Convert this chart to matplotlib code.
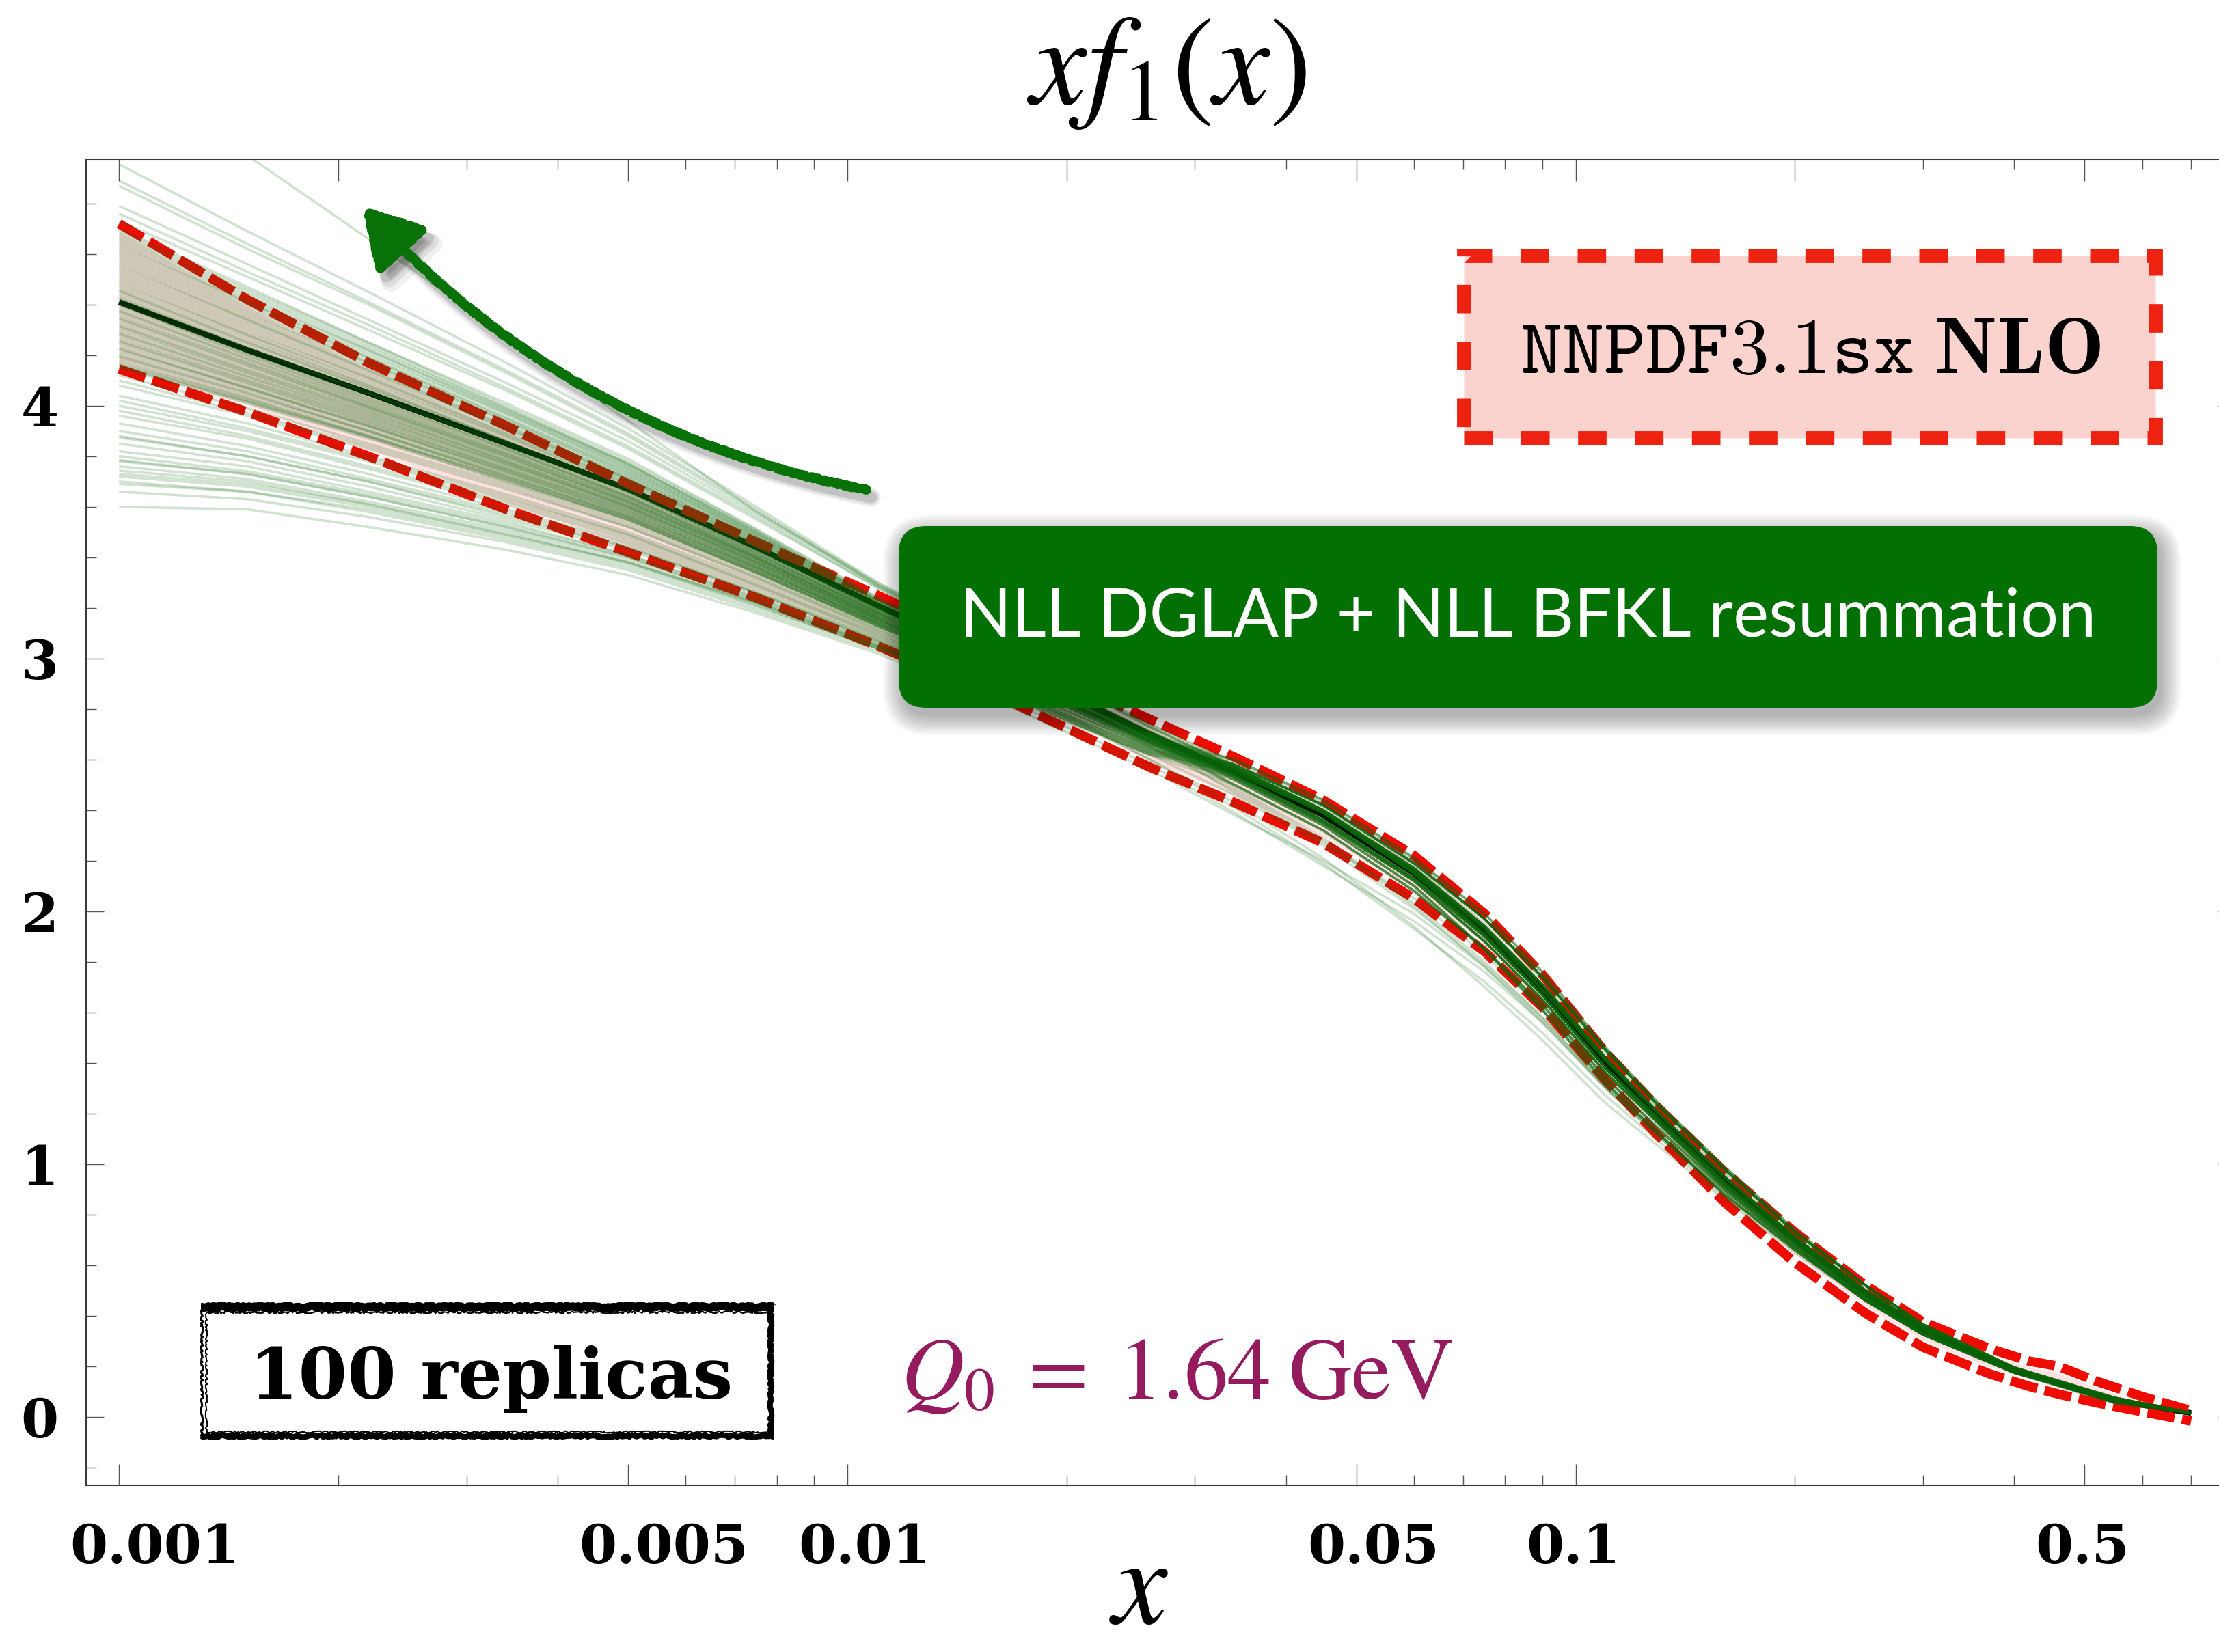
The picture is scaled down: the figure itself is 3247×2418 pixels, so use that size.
import numpy as np
import matplotlib
matplotlib.use("Agg")
import matplotlib.pyplot as plt
import matplotlib.transforms as mtransforms
from matplotlib.patches import FancyBboxPatch, Rectangle, FancyArrowPatch
from matplotlib.lines import Line2D
from matplotlib.ticker import FixedLocator, NullFormatter, MultipleLocator

# ---------------------------------------------------------------- data
X_NODES = [0.001, 0.0015, 0.0022, 0.0034, 0.005, 0.0075, 0.011, 0.017, 0.026,
           0.034, 0.045, 0.06, 0.075, 0.09, 0.11, 0.13, 0.16, 0.2, 0.25, 0.3,
           0.4, 0.55, 0.7]
CENTRAL = [4.41, 4.22, 4.05, 3.85, 3.67, 3.44, 3.21, 2.96, 2.70,
           2.55, 2.38, 2.15, 1.92, 1.69, 1.40, 1.19, 0.94, 0.70, 0.49, 0.345,
           0.185, 0.065, 0.015]

BAND_X = [0.001, 0.0015, 0.0022, 0.0034, 0.005, 0.0075, 0.011, 0.017, 0.026,
          0.034, 0.045, 0.06, 0.075, 0.09, 0.11, 0.13, 0.16, 0.2, 0.25, 0.3,
          0.37, 0.42, 0.46, 0.52, 0.6, 0.7]
BAND_UP = [4.72, 4.42, 4.17, 3.92, 3.69, 3.46, 3.25, 3.00, 2.76,
           2.61, 2.44, 2.22, 1.99, 1.75, 1.44, 1.22, 0.97, 0.73, 0.52, 0.375,
           0.27, 0.22, 0.20, 0.14, 0.08, 0.024]
BAND_LO = [4.145, 3.975, 3.80, 3.59, 3.42, 3.24, 3.05, 2.82, 2.57,
           2.43, 2.27, 2.05, 1.84, 1.62, 1.33, 1.11, 0.85, 0.61, 0.41, 0.275,
           0.17, 0.12, 0.09, 0.055, 0.02, -0.017]

# replica minus central value, one row per replica, at X_NODES
REPLICA_DEV = [
    [.94, .77, .61, .43, .27, .14, .08, .05, .03, .02, .02, .02, .02, .02, .02, .01, .01, .01, .01, .01, .00, .00, .00],
    [.545, .47, .40, .32, .24, .16, .09, .06, .04, .03, .03, .03, .03, .02, .02, .02, .02, .01, .01, .01, .00, .00, .00],
    [.48, .42, .36, .29, .22, .15, .08, .05, .03, .02, .02, .02, .02, .01, .01, .01, .01, .01, .01, .00, .00, .00, .00],
    [.46, .40, .35, .28, .21, .14, .09, .06, .04, .04, .05, .05, .05, .04, .04, .03, .03, .02, .02, .01, .01, .00, .00],
    [.38, .34, .29, .24, .19, .13, .08, .05, .03, .02, .02, .01, .01, .00, .00, .00, .00, .00, .00, .00, .00, .00, .00],
    [.35, .31, .27, .22, .17, .12, .07, .04, .02, -.01, -.02, -.02, -.03, -.03, -.03, -.02, -.02, -.01, -.01, .00, .00, .00, .00],
    [.32, .29, .25, .21, .16, .11, .07, .05, .03, .02, .02, .02, .02, .02, .02, .01, .01, .01, .01, .00, .00, .00, .00],
    [.29, .25, .20, .16, .12, .07, .03, .02, .01, .03, .04, .04, .05, .05, .05, .04, .04, .03, .03, .02, .01, .01, .00],
    [.28, .24, .20, .15, .11, .07, .03, .02, .01, .01, .01, .00, -.01, -.02, -.02, -.02, -.02, -.01, -.01, .00, .00, .00, .00],
    [.27, .23, .19, .14, .10, .06, .02, .01, .01, -.02, -.03, -.03, -.04, -.04, -.04, -.03, -.03, -.02, -.02, -.01, -.01, .00, .00],
    [.26, .22, .18, .14, .10, .06, .02, .01, .01, .02, .02, .02, .02, .02, .02, .01, .01, .01, .01, .01, .00, .00, .00],
    [.25, .21, .17, .13, .10, .06, .02, .01, .01, .00, .01, .01, .01, .00, .01, .01, .01, .00, .00, .00, .00, .00, .00],
    [.24, .20, .17, .13, .09, .05, .02, .01, .01, -.01, -.02, -.02, -.02, -.02, -.02, -.01, -.01, -.01, -.01, -.01, .00, .00, .00],
    [.23, .19, .16, .12, .09, .05, .02, .01, .01, -.03, -.04, -.05, -.07, -.08, -.08, -.07, -.06, -.04, -.03, -.02, -.01, .00, .00],
    [.22, .19, .15, .12, .08, .05, .01, .01, .00, .05, .06, .06, .07, .07, .06, .05, .05, .04, .03, .02, .01, .01, .00],
    [.21, .18, .14, .11, .08, .04, .01, .01, .00, .01, .01, .00, -.01, -.02, -.02, -.02, -.02, -.01, -.01, .00, .00, .00, .00],
    [.20, .17, .14, .10, .07, .04, .01, .01, .00, -.05, -.06, -.07, -.07, -.06, -.06, -.05, -.04, -.03, -.03, -.02, -.01, -.01, .00],
    [.19, .16, .13, .10, .07, .04, .01, .01, .00, .02, .02, .02, .02, .02, .02, .01, .01, .01, .01, .01, .00, .00, .00],
    [.18, .15, .12, .09, .06, .03, .01, .01, .00, -.02, -.03, -.03, -.04, -.04, -.04, -.03, -.03, -.02, -.02, -.01, -.01, .00, .00],
    [.17, .14, .12, .09, .06, .03, .00, .00, .00, .00, .01, .01, .01, .00, .01, .01, .01, .00, .00, .00, .00, .00, .00],
    [.16, .13, .11, .08, .05, .03, .00, .00, .00, .03, .04, .04, .05, .05, .05, .04, .04, .03, .03, .02, .01, .01, .00],
    [.15, .12, .10, .07, .05, .02, .00, .00, .00, -.01, -.02, -.02, -.02, -.02, -.02, -.01, -.01, -.01, -.01, -.01, .00, .00, .00],
    [.14, .12, .09, .07, .04, .02, .00, .00, .00, .01, .01, .00, -.01, -.02, -.02, -.02, -.02, -.01, -.01, .00, .00, .00, .00],
    [.13, .11, .09, .06, .04, .02, .00, .00, .00, .03, .04, .04, .05, .05, .05, .04, .04, .03, .03, .02, .01, .01, .00],
    [.12, .10, .08, .06, .04, .01, -.01, -.01, .00, .01, .01, .00, -.01, -.02, -.02, -.02, -.02, -.01, -.01, .00, .00, .00, .00],
    [.11, .09, .07, .05, .03, .01, -.01, -.01, .00, -.02, -.03, -.03, -.04, -.04, -.04, -.03, -.03, -.02, -.02, -.01, -.01, .00, .00],
    [.10, .08, .06, .04, .03, .01, -.01, -.01, .00, .02, .02, .02, .02, .02, .02, .01, .01, .01, .01, .01, .00, .00, .00],
    [.09, .07, .06, .04, .02, .00, -.01, -.01, .00, .00, .01, .01, .01, .00, .01, .01, .01, .00, .00, .00, .00, .00, .00],
    [.08, .06, .05, .03, .02, .00, -.01, -.01, .00, -.01, -.02, -.02, -.02, -.02, -.02, -.01, -.01, -.01, -.01, -.01, .00, .00, .00],
    [.07, .06, .04, .03, .01, .00, -.02, -.01, -.01, -.03, -.04, -.05, -.07, -.08, -.08, -.07, -.06, -.04, -.03, -.02, -.01, .00, .00],
    [.06, .05, .03, .02, .01, .00, -.02, -.01, -.01, .05, .06, .06, .07, .07, .06, .05, .05, .04, .03, .02, .01, .01, .00],
    [.05, .04, .03, .01, .00, -.01, -.02, -.01, -.01, .01, .01, .00, -.01, -.02, -.02, -.02, -.02, -.01, -.01, .00, .00, .00, .00],
    [.045, .03, .02, .01, .00, -.01, -.02, -.01, -.01, -.05, -.06, -.07, -.07, -.06, -.06, -.05, -.04, -.03, -.03, -.02, -.01, -.01, .00],
    [.04, .03, .02, .01, .00, -.01, -.02, -.01, -.01, .02, .02, .02, .02, .02, .02, .01, .01, .01, .01, .01, .00, .00, .00],
    [.03, .02, .01, .00, -.01, -.02, -.02, -.01, -.01, -.02, -.03, -.03, -.04, -.04, -.04, -.03, -.03, -.02, -.02, -.01, -.01, .00, .00],
    [.02, .01, .00, .00, -.01, -.02, -.03, -.02, -.01, .00, .01, .01, .01, .00, .01, .01, .01, .00, .00, .00, .00, .00, .00],
    [.015, .01, .00, -.01, -.01, -.02, -.03, -.02, -.01, .03, .04, .04, .05, .05, .05, .04, .04, .03, .03, .02, .01, .01, .00],
    [.01, .00, .00, -.01, -.02, -.02, -.03, -.02, -.01, -.01, -.02, -.02, -.02, -.02, -.02, -.01, -.01, -.01, -.01, -.01, .00, .00, .00],
    [.00, -.01, -.01, -.02, -.02, -.03, -.03, -.02, -.01, .01, .01, .00, -.01, -.02, -.02, -.02, -.02, -.01, -.01, .00, .00, .00, .00],
    [-.01, -.01, -.02, -.02, -.03, -.03, -.03, -.02, -.01, -.06, -.09, -.12, -.12, -.11, -.09, -.07, -.05, -.03, -.02, -.01, -.01, .00, .00],
    [-.01, -.02, -.02, -.02, -.03, -.03, -.03, -.02, -.01, -.02, -.03, -.03, -.04, -.04, -.04, -.03, -.03, -.02, -.02, -.01, -.01, .00, .00],
    [-.02, -.02, -.03, -.03, -.03, -.03, -.03, -.02, -.01, .02, .02, .02, .02, .02, .02, .01, .01, .01, .01, .01, .00, .00, .00],
    [-.03, -.03, -.03, -.03, -.03, -.04, -.04, -.03, -.02, .00, .01, .01, .01, .00, .01, .01, .01, .00, .00, .00, .00, .00, .00],
    [-.035, -.035, -.04, -.04, -.04, -.04, -.04, -.03, -.02, .03, .04, .04, .05, .05, .05, .04, .04, .03, .03, .02, .01, .01, .00],
    [-.04, -.04, -.04, -.04, -.04, -.04, -.04, -.03, -.02, -.01, -.02, -.02, -.02, -.02, -.02, -.01, -.01, -.01, -.01, -.01, .00, .00, .00],
    [-.05, -.05, -.05, -.04, -.04, -.04, -.04, -.03, -.02, -.03, -.04, -.05, -.07, -.08, -.08, -.07, -.06, -.04, -.03, -.02, -.01, .00, .00],
    [-.06, -.05, -.05, -.05, -.05, -.04, -.04, -.03, -.02, .05, .06, .06, .07, .07, .06, .05, .05, .04, .03, .02, .01, .01, .00],
    [-.065, -.06, -.055, -.05, -.05, -.045, -.045, -.03, -.02, .01, .01, .00, -.01, -.02, -.02, -.02, -.02, -.01, -.01, .00, .00, .00, .00],
    [-.07, -.06, -.06, -.05, -.05, -.05, -.04, -.03, -.02, -.05, -.06, -.07, -.07, -.06, -.06, -.05, -.04, -.03, -.03, -.02, -.01, -.01, .00],
    [-.08, -.07, -.06, -.06, -.05, -.05, -.05, -.04, -.02, .02, .02, .02, .02, .02, .02, .01, .01, .01, .01, .01, .00, .00, .00],
    [-.09, -.08, -.07, -.06, -.06, -.05, -.05, -.07, -.10, -.12, -.17, -.21, -.22, -.20, -.16, -.12, -.08, -.05, -.03, -.02, -.01, .00, .00],
    [-.095, -.08, -.07, -.07, -.06, -.05, -.05, -.04, -.02, .00, .01, .01, .01, .00, .01, .01, .01, .00, .00, .00, .00, .00, .00],
    [-.10, -.09, -.08, -.07, -.06, -.06, -.05, -.04, -.02, .03, .04, .04, .05, .05, .05, .04, .04, .03, .03, .02, .01, .01, .00],
    [-.11, -.09, -.08, -.07, -.07, -.06, -.05, -.04, -.02, -.01, -.02, -.02, -.02, -.02, -.02, -.01, -.01, -.01, -.01, -.01, .00, .00, .00],
    [-.12, -.10, -.09, -.08, -.07, -.06, -.05, -.04, -.02, .01, .01, .00, -.01, -.02, -.02, -.02, -.02, -.01, -.01, .00, .00, .00, .00],
    [-.125, -.105, -.09, -.08, -.07, -.06, -.055, -.04, -.02, -.02, -.03, -.03, -.04, -.04, -.04, -.03, -.03, -.02, -.02, -.01, -.01, .00, .00],
    [-.13, -.11, -.10, -.08, -.07, -.06, -.06, -.04, -.03, .02, .02, .02, .02, .02, .02, .01, .01, .01, .01, .01, .00, .00, .00],
    [-.14, -.12, -.10, -.09, -.08, -.07, -.06, -.04, -.03, .00, .01, .01, .01, .00, .01, .01, .01, .00, .00, .00, .00, .00, .00],
    [-.15, -.12, -.11, -.09, -.08, -.07, -.06, -.04, -.03, .03, .04, .04, .05, .05, .05, .04, .04, .03, .03, .02, .01, .01, .00],
    [-.155, -.13, -.11, -.10, -.08, -.07, -.06, -.04, -.03, -.01, -.02, -.02, -.02, -.02, -.02, -.01, -.01, -.01, -.01, -.01, .00, .00, .00],
    [-.16, -.13, -.12, -.10, -.09, -.07, -.06, -.04, -.03, .01, .01, .00, -.01, -.02, -.02, -.02, -.02, -.01, -.01, .00, .00, .00, .00],
    [-.17, -.14, -.12, -.10, -.09, -.08, -.06, -.04, -.03, -.03, -.04, -.05, -.07, -.08, -.08, -.07, -.06, -.04, -.03, -.02, -.01, .00, .00],
    [-.18, -.15, -.13, -.11, -.09, -.08, -.07, -.05, -.03, .05, .06, .06, .07, .07, .06, .05, .05, .04, .03, .02, .01, .01, .00],
    [-.185, -.15, -.13, -.11, -.10, -.08, -.07, -.05, -.03, -.08, -.11, -.10, -.09, -.08, -.07, -.06, -.04, -.03, -.02, -.01, .00, .00, .00],
    [-.19, -.15, -.13, -.11, -.10, -.08, -.07, -.05, -.03, -.05, -.06, -.07, -.07, -.06, -.06, -.05, -.04, -.03, -.03, -.02, -.01, -.01, .00],
    [-.20, -.16, -.14, -.12, -.10, -.08, -.07, -.05, -.03, .02, .02, .02, .02, .02, .02, .01, .01, .01, .01, .01, .00, .00, .00],
    [-.21, -.17, -.15, -.12, -.11, -.09, -.07, -.05, -.03, -.02, -.03, -.03, -.04, -.04, -.04, -.03, -.03, -.02, -.02, -.01, -.01, .00, .00],
    [-.215, -.17, -.15, -.13, -.11, -.09, -.07, -.05, -.03, .00, .01, .01, .01, .00, .01, .01, .01, .00, .00, .00, .00, .00, .00],
    [-.22, -.18, -.15, -.13, -.11, -.09, -.07, -.05, -.03, .03, .04, .04, .05, .05, .05, .04, .04, .03, .03, .02, .01, .01, .00],
    [-.23, -.19, -.16, -.13, -.11, -.09, -.08, -.06, -.04, -.01, -.02, -.02, -.02, -.02, -.02, -.01, -.01, -.01, -.01, -.01, .00, .00, .00],
    [-.24, -.19, -.17, -.14, -.12, -.10, -.08, -.06, -.04, .01, .01, .00, -.01, -.02, -.02, -.02, -.02, -.01, -.01, .00, .00, .00, .00],
    [-.245, -.20, -.17, -.14, -.12, -.10, -.08, -.06, -.04, .03, .04, .04, .05, .05, .05, .04, .04, .03, .03, .02, .01, .01, .00],
    [-.25, -.20, -.17, -.14, -.12, -.10, -.08, -.06, -.04, .01, .01, .00, -.01, -.02, -.02, -.02, -.02, -.01, -.01, .00, .00, .00, .00],
    [-.255, -.205, -.175, -.15, -.12, -.10, -.08, -.06, -.04, -.02, -.03, -.03, -.04, -.04, -.04, -.03, -.03, -.02, -.02, -.01, -.01, .00, .00],
    [-.26, -.21, -.18, -.15, -.13, -.10, -.08, -.06, -.04, .02, .02, .02, .02, .02, .02, .01, .01, .01, .01, .01, .00, .00, .00],
    [-.29, -.23, -.20, -.16, -.14, -.11, -.09, -.06, -.04, .00, .01, .01, .01, .00, .01, .01, .01, .00, .00, .00, .00, .00, .00],
    [-.31, -.25, -.21, -.17, -.15, -.12, -.09, -.09, -.10, -.14, -.19, -.22, -.20, -.17, -.13, -.10, -.07, -.04, -.03, -.02, -.01, .00, .00],
    [-.33, -.26, -.22, -.18, -.15, -.12, -.10, -.07, -.05, -.01, -.02, -.02, -.02, -.02, -.02, -.01, -.01, -.01, -.01, -.01, .00, .00, .00],
    [-.37, -.29, -.25, -.20, -.17, -.13, -.10, -.07, -.05, -.03, -.04, -.05, -.07, -.08, -.08, -.07, -.06, -.04, -.03, -.02, -.01, .00, .00],
    [-.39, -.31, -.26, -.21, -.18, -.14, -.11, -.08, -.05, .01, .01, .00, -.01, -.02, -.02, -.02, -.02, -.01, -.01, .00, .00, .00, .00],
    [-.41, -.32, -.27, -.22, -.18, -.15, -.11, -.08, -.05, -.05, -.06, -.07, -.07, -.06, -.06, -.05, -.04, -.03, -.03, -.02, -.01, -.01, .00],
    [-.43, -.34, -.29, -.23, -.19, -.15, -.12, -.08, -.05, .02, .02, .02, .02, .02, .02, .01, .01, .01, .01, .01, .00, .00, .00],
    [-.45, -.35, -.30, -.24, -.20, -.16, -.12, -.08, -.05, -.07, -.10, -.13, -.14, -.13, -.10, -.08, -.06, -.04, -.02, -.01, -.01, .00, .00],
    [-.48, -.38, -.32, -.26, -.21, -.17, -.13, -.09, -.06, .03, .04, .04, .05, .05, .05, .04, .04, .03, .03, .02, .01, .01, .00],
    [-.51, -.40, -.34, -.27, -.22, -.18, -.13, -.09, -.06, -.01, -.02, -.02, -.02, -.02, -.02, -.01, -.01, -.01, -.01, -.01, .00, .00, .00],
    [-.53, -.42, -.35, -.28, -.23, -.18, -.14, -.10, -.06, .01, .01, .00, -.01, -.02, -.02, -.02, -.02, -.01, -.01, .00, .00, .00, .00],
    [-.535, -.42, -.35, -.29, -.23, -.18, -.14, -.10, -.06, -.02, -.03, -.03, -.04, -.04, -.04, -.03, -.03, -.02, -.02, -.01, -.01, .00, .00],
    [-.56, -.44, -.37, -.30, -.24, -.19, -.14, -.10, -.06, .02, .02, .02, .02, .02, .02, .01, .01, .01, .01, .01, .00, .00, .00],
    [-.59, -.46, -.39, -.31, -.26, -.20, -.15, -.14, -.12, -.16, -.20, -.19, -.16, -.13, -.10, -.08, -.05, -.03, -.02, -.01, .00, .00, .00],
    [-.61, -.48, -.40, -.32, -.26, -.20, -.15, -.10, -.07, .00, .01, .01, .01, .00, .01, .01, .01, .00, .00, .00, .00, .00, .00],
    [-.625, -.49, -.41, -.33, -.27, -.21, -.16, -.11, -.07, .03, .04, .04, .05, .05, .05, .04, .04, .03, .03, .02, .01, .01, .00],
    [-.63, -.49, -.41, -.33, -.27, -.21, -.16, -.11, -.07, -.03, -.04, -.05, -.07, -.08, -.08, -.07, -.06, -.04, -.03, -.02, -.01, .00, .00],
    [-.65, -.51, -.43, -.34, -.28, -.22, -.16, -.11, -.07, -.01, -.02, -.02, -.02, -.02, -.02, -.01, -.01, -.01, -.01, -.01, .00, .00, .00],
    [-.667, -.52, -.44, -.35, -.29, -.22, -.16, -.11, -.07, .01, .01, .00, -.01, -.02, -.02, -.02, -.02, -.01, -.01, .00, .00, .00, .00],
    [-.68, -.53, -.44, -.36, -.29, -.22, -.17, -.12, -.08, -.05, -.06, -.07, -.07, -.06, -.06, -.05, -.04, -.03, -.03, -.02, -.01, -.01, .00],
    [-.69, -.54, -.45, -.36, -.29, -.23, -.17, -.12, -.08, -.09, -.12, -.14, -.13, -.11, -.09, -.07, -.05, -.03, -.02, -.01, .00, .00, .00],
    [-.71, -.56, -.46, -.37, -.30, -.23, -.17, -.12, -.08, .02, .02, .02, .02, .02, .02, .01, .01, .01, .01, .01, .00, .00, .00],
    [-.72, -.56, -.47, -.38, -.31, -.24, -.17, -.12, -.08, -.02, -.03, -.03, -.04, -.04, -.04, -.03, -.03, -.02, -.02, -.01, -.01, .00, .00],
    [-.75, -.59, -.49, -.39, -.32, -.25, -.18, -.13, -.08, .00, .01, .01, .01, .00, .01, .01, .01, .00, .00, .00, .00, .00, .00],
    [-.81, -.63, -.53, -.42, -.34, -.26, -.19, -.16, -.14, -.17, -.18, -.16, -.14, -.12, -.10, -.08, -.06, -.04, -.03, -.02, -.01, .00, .00],
]

X_TICKS = [0.001, 0.005, 0.01, 0.05, 0.1, 0.5]
X_TICK_LABELS = ["0.001", "0.005", "0.01", "0.05", "0.1", "0.5"]
Y_TICKS = [0, 1, 2, 3, 4]
Y_TICK_LABELS = ["0", "1", "2", "3", "4"]

X_RANGE = (0.000901, 0.807)
Y_RANGE = (-0.271, 4.976)

TITLE = r"$xf_1(x)$"
X_LABEL = r"$x$"
PDF_SET_TAG = r"$\mathtt{NNPDF3.1sx}\;\mathbf{NLO}$"
RESUM_TAG = "NLL DGLAP + NLL BFKL resummation"
REPLICA_TAG = "100 replicas"
SCALE_TAG = r"$Q_0\;=\;1.64\;\mathrm{GeV}$"

# ---------------------------------------------------------------- figure
W, H, DPI = 3247, 2418, 100
fig = plt.figure(figsize=(W / DPI, H / DPI), dpi=DPI, facecolor="white")
PIX = mtransforms.IdentityTransform()


def disp(px, py):
    """pixel position measured from the top-left corner -> display coords"""
    return px, H - py


AX_L, AX_R, AX_T, AX_B = 126, 3272, 232.7, 2174
ax = fig.add_axes([AX_L / W, 1 - AX_B / H, (AX_R - AX_L) / W, (AX_B - AX_T) / H])
ax.set_xscale("log")
ax.set_xlim(*X_RANGE)
ax.set_ylim(*Y_RANGE)

TICK_C = "#555555"
for s in ax.spines.values():
    s.set_color("#3a3a3a")
    s.set_linewidth(1.5)

LABEL_FONT = dict(fontfamily="DejaVu Serif", fontweight="bold", fontsize=57)

decade_minors = [k * 10.0 ** e for e in range(-4, 0) for k in range(2, 10)]
ax.xaxis.set_major_locator(FixedLocator(X_TICKS))
ax.xaxis.set_major_formatter(NullFormatter())
ax.xaxis.set_minor_locator(FixedLocator([v for v in decade_minors
                                         if not any(abs(v / t - 1) < 1e-6 for t in X_TICKS)]))
ax.xaxis.set_minor_formatter(NullFormatter())
ax.tick_params(axis="x", which="major", direction="in", length=22, width=1.0,
               color=TICK_C, top=False, bottom=True)
ax.tick_params(axis="x", which="minor", direction="in", length=11, width=1.0,
               color=TICK_C, top=False, bottom=True)

# x tick labels: decimal point sits on the tick
lab_tr = (mtransforms.blended_transform_factory(ax.transData, fig.transFigure)
          + mtransforms.ScaledTranslation(-72 / DPI, 0, fig.dpi_scale_trans))
for v, s in zip(X_TICKS, X_TICK_LABELS):
    ax.text(v, 1 - 2288 / H, s, transform=lab_tr, ha="left", va="baseline",
            clip_on=False, **LABEL_FONT)

ax.set_yticks(Y_TICKS)
ax.set_yticklabels(Y_TICK_LABELS)
ax.yaxis.set_minor_locator(MultipleLocator(0.2))
ax.tick_params(axis="y", which="major", direction="in", length=18.5, width=1.0,
               color=TICK_C, pad=29, left=True, right=True)
ax.tick_params(axis="y", which="minor", direction="in", length=10.8, width=1.0,
               color=TICK_C, left=True, right=True)
for lab in ax.get_yticklabels():
    lab.set_fontfamily(LABEL_FONT["fontfamily"])
    lab.set_fontweight(LABEL_FONT["fontweight"])
    lab.set_fontsize(LABEL_FONT["fontsize"])

# top axis: 1-2-5 long ticks, the rest short
axt = ax.twiny()
axt.set_xscale("log")
axt.set_xlim(*X_RANGE)
top_major = [k * 10.0 ** e for e in range(-3, 0) for k in (1, 2, 5)]
axt.xaxis.set_major_locator(FixedLocator(top_major))
axt.xaxis.set_minor_locator(FixedLocator([v for v in decade_minors
                                          if not any(abs(v / t - 1) < 1e-6 for t in top_major)]))
axt.xaxis.set_major_formatter(NullFormatter())
axt.xaxis.set_minor_formatter(NullFormatter())
axt.tick_params(axis="x", which="major", direction="in", length=23, width=1.0, color=TICK_C)
axt.tick_params(axis="x", which="minor", direction="in", length=11, width=1.0, color=TICK_C)
for s in axt.spines.values():
    s.set_visible(False)

# ---------------------------------------------------------------- curves
ax.fill_between(BAND_X, BAND_LO, BAND_UP, color="#ffe1e1", lw=0, zorder=1)
for band in (BAND_UP, BAND_LO):
    ax.plot(BAND_X, band, color="white", lw=14, alpha=0.7, zorder=1.5,
            solid_capstyle="butt", solid_joinstyle="round")
ax.plot(X_NODES, CENTRAL, color="#001c00", lw=6, zorder=2,
        solid_capstyle="butt", solid_joinstyle="round")
for band in (BAND_UP, BAND_LO):
    ax.plot(BAND_X, band, color="#ee0c00", lw=10, dashes=(2.9, 0.8), zorder=3,
            dash_capstyle="butt", dash_joinstyle="round")
central = np.asarray(CENTRAL)
for dev in REPLICA_DEV:
    ax.plot(X_NODES, central + np.asarray(dev), color="#0b660b", alpha=0.19,
            lw=2.6, zorder=4, solid_capstyle="butt", solid_joinstyle="round")

# ---------------------------------------------------------------- titles
fig.text(1708 / W, 1 - 152 / H, TITLE, ha="center", va="baseline",
         fontsize=133, math_fontfamily="stix")
fig.text(1667 / W, 1 - 2376 / H, X_LABEL, ha="center", va="baseline",
         fontsize=130, math_fontfamily="stix")

# ---------------------------------------------------------------- pink tag
x0, y0, x1, y1 = 2142, 373.5, 3153.5, 641
pink = Rectangle(disp(x0, y1), x1 - x0, y1 - y0, transform=PIX, fc="#fad3cf",
                 ec="#ee2211", lw=15, linestyle=(0, (2, 2)), zorder=10)
fig.add_artist(pink)
fig.text(2649 / W, 1 - 546 / H, PDF_SET_TAG, ha="center", va="baseline",
         fontsize=84, math_fontfamily="cm", zorder=11)

# ---------------------------------------------------------------- green tag
gx0, gy0, gx1, gy1 = 1315, 770, 3157, 1036
for i in range(9):
    p = 3.5 * i
    sh = FancyBboxPatch((gx0 - p + 6, H - gy1 - p - 12), gx1 - gx0 + 2 * p,
                        gy1 - gy0 + 2 * p,
                        boxstyle=f"round,pad=0,rounding_size={40 + p}",
                        transform=PIX, fc="black", ec="none", alpha=0.035, zorder=9)
    fig.add_artist(sh)
green = FancyBboxPatch((gx0, H - gy1), gx1 - gx0, gy1 - gy0,
                       boxstyle="round,pad=0,rounding_size=40", transform=PIX,
                       fc="#037003", ec="none", zorder=10)
fig.add_artist(green)
fig.text(2236 / W, 1 - 931.7 / H, RESUM_TAG, ha="center", va="baseline",
         fontsize=71, color="white", fontfamily="Lato", fontweight="normal",
         zorder=11)

# ---------------------------------------------------------------- replica tag
bx0, by0, bx1, by1 = 294, 1907, 1132, 2106
frame_edges = [
    ((bx0, bx1), (by0 + 6, by0 + 6), 12),
    ((bx0, bx1), (by1 - 4, by1 - 4), 8),
    ((bx1 - 4, bx1 - 4), (by0, by1), 8),
    ((bx0 + 1, bx0 + 1), (by0 + 8, by1), 3),
    ((bx0 + 8, bx0 + 8), (by0 + 14, by1 - 9), 2),
    ((bx0 + 8, bx1 - 8), (by0 + 14, by0 + 14), 2),
    ((bx0 + 8, bx1 - 8), (by1 - 10, by1 - 10), 2),
]
for xs, ys, lw_px in frame_edges:
    ln = Line2D(xs, [H - v for v in ys], transform=PIX, color="black",
                lw=lw_px * 0.72, zorder=10, solid_capstyle="butt")
    ln.set_sketch_params(scale=1.2, length=25, randomness=20)
    fig.add_artist(ln)
fig.text(719 / W, 1 - 2047.5 / H, REPLICA_TAG, ha="center", va="baseline",
         fontsize=74, fontfamily="DejaVu Serif", fontweight="bold", zorder=11)

# ---------------------------------------------------------------- scale tag
fig.text(1318 / W, 1 - 2046.7 / H, SCALE_TAG, ha="left", va="baseline",
         fontsize=92, color="#951b5f", math_fontfamily="stix", zorder=11)

# ---------------------------------------------------------------- arrow
ARROW_KW = dict(connectionstyle="arc3,rad=-0.165",
                arrowstyle="-|>,head_length=0.5,head_width=0.3",
                mutation_scale=100, shrinkA=0, shrinkB=0, transform=PIX)
tail, tip = (1268, 717), (531, 303)
for extra, a in [(10, 0.06), (6, 0.08), (2, 0.12)]:
    shadow = FancyArrowPatch(disp(tail[0] + 7, tail[1] + 11), disp(tip[0] + 7, tip[1] + 11),
                             lw=10 + extra, color="black", alpha=a, zorder=9.5,
                             **ARROW_KW)
    fig.add_artist(shadow)
arrow = FancyArrowPatch(disp(*tail), disp(*tip), lw=10, color="#087208",
                        zorder=10, **ARROW_KW)
arrow.set_sketch_params(scale=1.0, length=30, randomness=20)
fig.add_artist(arrow)

fig.savefig("out.png", dpi=DPI, facecolor="white")
